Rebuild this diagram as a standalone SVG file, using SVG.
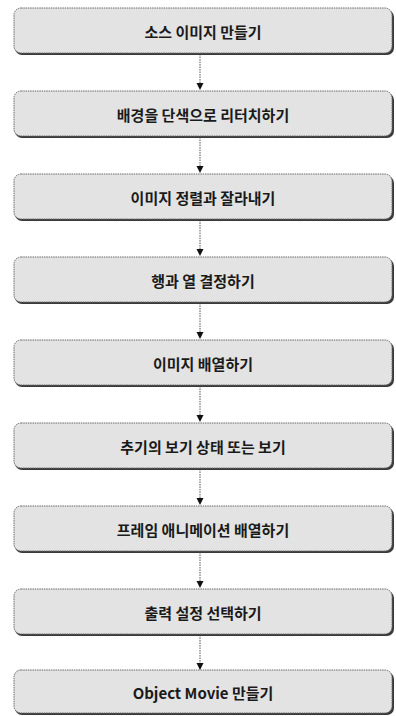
<svg xmlns="http://www.w3.org/2000/svg" width="396" height="716" viewBox="0 0 396 716">
<defs>
<style>
.shadow{fill:#3a3a3a;}
.box{fill:#e3e3e3;stroke:#6a6a6a;stroke-width:1;stroke-dasharray:1.5 0.8;}
.lbl{font-family:"Noto Sans CJK KR","Liberation Sans",sans-serif;font-size:15px;font-weight:bold;fill:#1a1a1a;text-anchor:middle;dominant-baseline:central;}
.conn{stroke:#555;stroke-width:1;stroke-dasharray:1.5 1;fill:none;}
</style>
<marker id="ah" markerWidth="8" markerHeight="8" refX="6" refY="4" orient="auto" markerUnits="userSpaceOnUse">
<path d="M0,0.5 L7,4 L0,7.5 Z" fill="#111"/>
</marker>
</defs>
<rect width="396" height="716" fill="#ffffff"/>
<g id="connectors">
<line class="conn" x1="200" y1="54" x2="200" y2="89" marker-end="url(#ah)"/>
<line class="conn" x1="200" y1="137" x2="200" y2="172" marker-end="url(#ah)"/>
<line class="conn" x1="200" y1="220" x2="200" y2="255" marker-end="url(#ah)"/>
<line class="conn" x1="200" y1="303" x2="200" y2="338" marker-end="url(#ah)"/>
<line class="conn" x1="200" y1="386" x2="200" y2="421" marker-end="url(#ah)"/>
<line class="conn" x1="200" y1="469" x2="200" y2="504" marker-end="url(#ah)"/>
<line class="conn" x1="200" y1="552" x2="200" y2="587" marker-end="url(#ah)"/>
<line class="conn" x1="200" y1="635" x2="200" y2="669" marker-end="url(#ah)"/>
</g>
<g id="n1"><rect class="shadow" x="15" y="10" width="379" height="45" rx="7"/><rect class="box" x="14" y="8" width="378" height="45" rx="7"/><text class="lbl" x="203" y="31">소스 이미지 만들기</text></g>
<g id="n2"><rect class="shadow" x="15" y="93" width="379" height="45" rx="7"/><rect class="box" x="14" y="91" width="378" height="45" rx="7"/><text class="lbl" x="203" y="114">배경을 단색으로 리터치하기</text></g>
<g id="n3"><rect class="shadow" x="15" y="176" width="379" height="45" rx="7"/><rect class="box" x="14" y="174" width="378" height="45" rx="7"/><text class="lbl" x="203" y="197">이미지 정렬과 잘라내기</text></g>
<g id="n4"><rect class="shadow" x="15" y="259" width="379" height="45" rx="7"/><rect class="box" x="14" y="257" width="378" height="45" rx="7"/><text class="lbl" x="203" y="280">행과 열 결정하기</text></g>
<g id="n5"><rect class="shadow" x="15" y="342" width="379" height="45" rx="7"/><rect class="box" x="14" y="340" width="378" height="45" rx="7"/><text class="lbl" x="203" y="363">이미지 배열하기</text></g>
<g id="n6"><rect class="shadow" x="15" y="425" width="379" height="45" rx="7"/><rect class="box" x="14" y="423" width="378" height="45" rx="7"/><text class="lbl" x="203" y="446">추기의 보기 상태 또는 보기</text></g>
<g id="n7"><rect class="shadow" x="15" y="508" width="379" height="45" rx="7"/><rect class="box" x="14" y="506" width="378" height="45" rx="7"/><text class="lbl" x="203" y="529">프레임 애니메이션 배열하기</text></g>
<g id="n8"><rect class="shadow" x="15" y="591" width="379" height="45" rx="7"/><rect class="box" x="14" y="589" width="378" height="45" rx="7"/><text class="lbl" x="203" y="612">출력 설정 선택하기</text></g>
<g id="n9"><rect class="shadow" x="15" y="672" width="379" height="43" rx="7"/><rect class="box" x="14" y="670" width="378" height="43" rx="7"/><text class="lbl" x="203" y="692">Object Movie 만들기</text></g>
</svg>
